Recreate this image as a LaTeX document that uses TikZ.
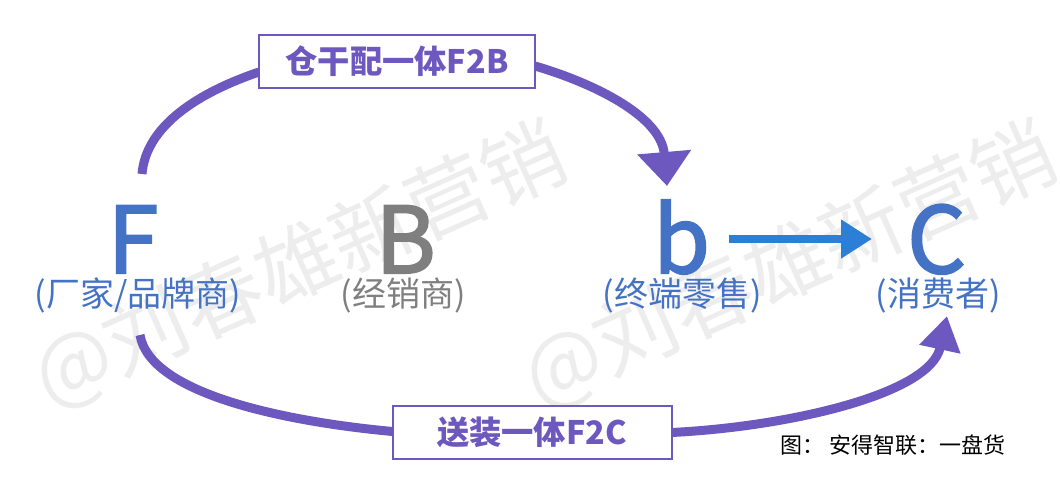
\documentclass[tikz,border=0pt]{standalone}
\usepackage{fontspec}
\usetikzlibrary{arrows.meta,backgrounds}
\setmainfont{Noto Sans CJK SC}
\newfontfamily\heavyletter[FakeBold=2.2]{Noto Sans CJK SC}
\definecolor{purp}{HTML}{6C58BF}
\definecolor{lblue}{HTML}{4472C4}
\definecolor{arrblue}{HTML}{2B7FD6}
\definecolor{lgray}{HTML}{7F7F7F}
\definecolor{wm}{HTML}{EDEDED}
\tikzset{
  every node/.style={inner sep=0pt,outer sep=0pt},
  bigletter/.style={font=\heavyletter\fontsize{92}{92}\selectfont,anchor=base},
  sublabel/.style={font=\fontsize{34}{34}\selectfont,anchor=base},
  flowlabel/.style={draw=purp,line width=2pt,fill=white,text=purp,font=\bfseries\fontsize{32.3}{32.3}\selectfont,minimum height=53pt},
  flow/.style={draw=purp,line width=9pt},
  watermark/.style={text=wm,font=\fontsize{82.5}{82.5}\selectfont,rotate=24},
}
\begin{document}
\begin{tikzpicture}[x=1pt,y=-1pt]
\useasboundingbox (0,0) rectangle (1062,491);
\node[bigletter,text=lblue] (f) at (133,273) {F};
\node[bigletter,text=lgray] (bb) at (405.5,273) {B};
\node[bigletter,text=lblue] (b) at (681.5,273) {b};
\node[bigletter,text=lblue] (c) at (936.5,273) {C};
\node[sublabel,text=lblue] (fs) at (138,306) {(厂家/品牌商)};
\node[sublabel,text=lgray] (bs) at (403,306) {(经销商)};
\node[sublabel,text=lblue] (bsub) at (682,306) {(终端零售)};
\node[sublabel,text=lblue] (cs) at (938,306) {(消费者)};
\node[flowlabel,minimum width=276pt] (top) at (397,61.5) {仓干配一体F2B};
\node[flowlabel,minimum width=279pt] (bot) at (532,432.5) {送装一体F2C};
\coordinate (fup) at (142,174);
\coordinate (fdown) at (140,335);
\coordinate (btip) at (667,186);
\coordinate (ctip) at (947,316);
\coordinate (bluea) at (729,239);
\coordinate (blueb) at (872,239);
\begin{pgfonlayer}{background}
\node[watermark] (wma) at (300,266) {@刘春雄新营销};
\node[watermark] (wmb) at (790,266) {@刘春雄新营销};
\draw[flow] (fup) .. controls (146,125) and (200,92) .. ([yshift=-10.5pt]top.west);
\draw[flow,-{Triangle[width=52pt,length=34pt]}] ([yshift=-4.5pt]top.east) .. controls (590,82) and (661,115) .. (btip);
\draw[flow] (fdown) .. controls (150,395) and (290,422) .. ([yshift=1pt]bot.west);
\draw[flow,-{Triangle[width=40pt,length=34pt]}] (bot.east) .. controls (785,427) and (930,395) .. (ctip);
\end{pgfonlayer}
\draw[draw=arrblue,line width=8pt,-{Triangle[width=37pt,length=31pt]}] (bluea) -- (blueb);
\node[font=\fontsize{22}{22}\selectfont,text=black] (src) at (893,445) {图：\ 安得智联：一盘货};
\end{tikzpicture}
\end{document}
